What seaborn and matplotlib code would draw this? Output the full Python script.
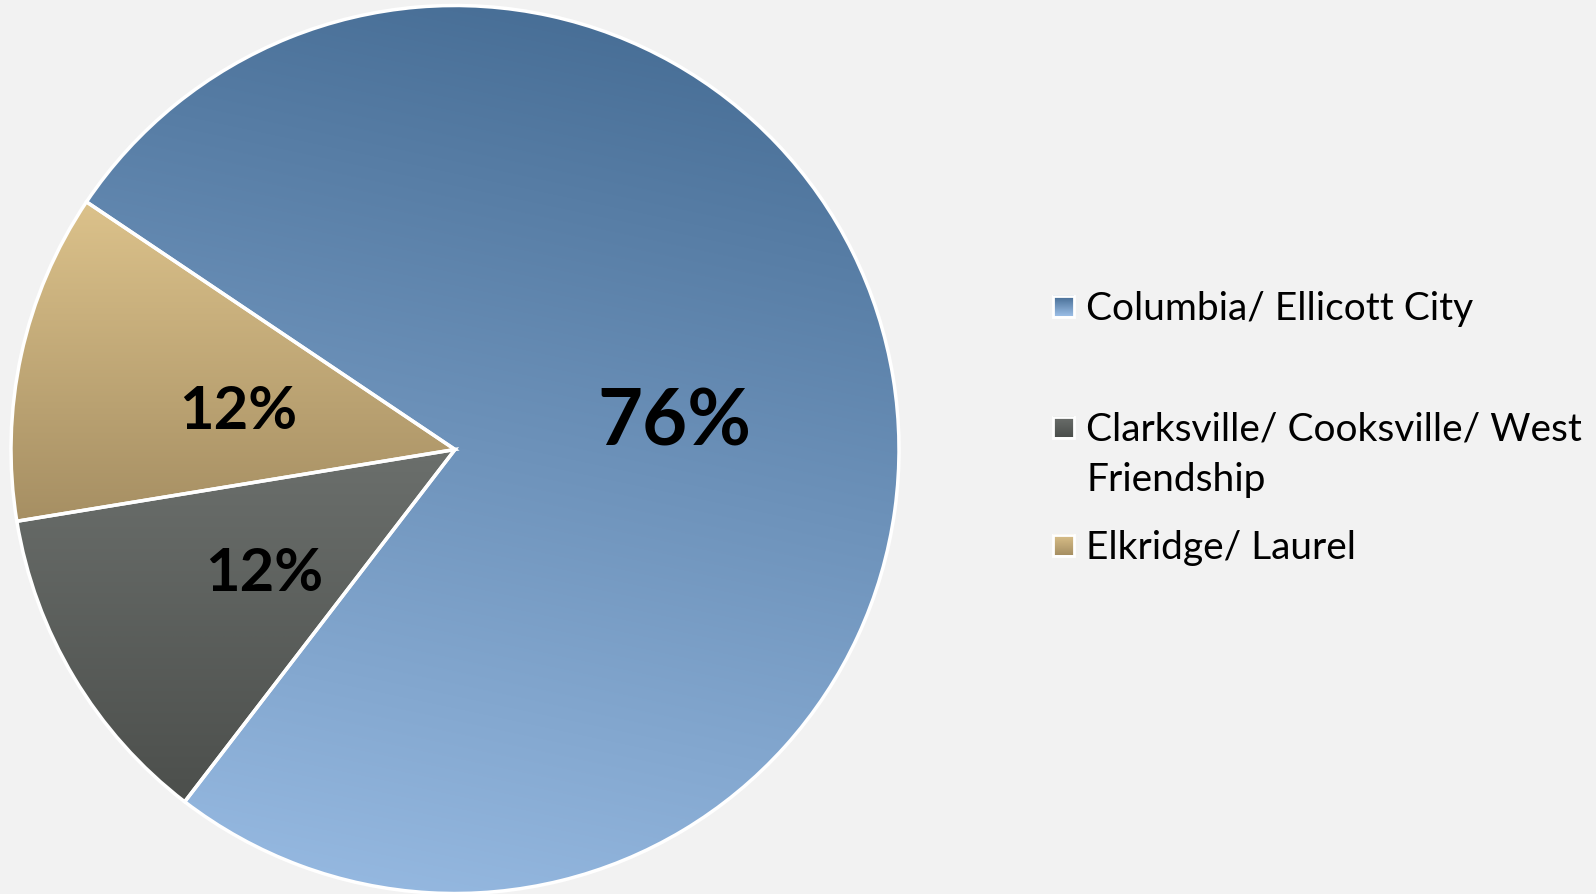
import numpy as np
import matplotlib
matplotlib.use("Agg")
import matplotlib.pyplot as plt
import matplotlib.transforms as mtransforms
import seaborn as sns
from matplotlib.colors import to_rgb
from matplotlib.patches import Rectangle

# data
regions = ['Columbia/ Ellicott City', 'Clarksville/ Cooksville/ West\nFriendship', 'Elkridge/ Laurel']
shares = [76, 12, 12]
top_colors = ['#416890', '#6b6f6c', '#dcc28b']
bottom_colors = ['#9abde5', '#4c4f4c', '#a68f63']
grad_tilt = [12, 0, 0]   # degrees the gradient is rotated from vertical

sns.set_theme(style='white')
plt.rcParams['font.family'] = ['Lato', 'DejaVu Sans']

bg = '#f2f2f2'
W, H = 1596, 894
fig = plt.figure(figsize=(W / 100, H / 100), dpi=100, facecolor=bg)

# pie placed in pixel terms
R, cx, cy = 444, 455, 449.5
pad = 1.03
ax = fig.add_axes([(cx - R * pad) / W, (H - cy - R * pad) / H, 2 * R * pad / W, 2 * R * pad / H])
ax.set_facecolor('none')

wedges, texts, autotexts = ax.pie(
    shares, startangle=146.1, counterclock=False, autopct='%1.0f%%', pctdistance=0.5,
    wedgeprops=dict(edgecolor='white', linewidth=2.5, facecolor='none'),
    textprops=dict(color='black', fontweight='bold'))


def gradient_img(x0, x1, y0, y1, top, bottom, tilt, n=300):
    xs = np.linspace(x0, x1, n)
    ys = np.linspace(y0, y1, n)
    X, Y = np.meshgrid(xs, ys)
    a = np.deg2rad(tilt)
    proj = X * np.sin(a) + Y * np.cos(a)
    corners = [cx_ * np.sin(a) + cy_ * np.cos(a) for cx_ in (x0, x1) for cy_ in (y0, y1)]
    t = (proj - min(corners)) / (max(corners) - min(corners))
    t = np.clip(t, 0, 1)[..., None]
    return t * np.array(to_rgb(top)) + (1 - t) * np.array(to_rgb(bottom))


for w, top, bot, tilt in zip(wedges, top_colors, bottom_colors, grad_tilt):
    bb = w.get_path().get_extents()
    img = gradient_img(bb.x0, bb.x1, bb.y0, bb.y1, top, bot, tilt)
    im = ax.imshow(img, extent=(bb.x0, bb.x1, bb.y0, bb.y1), origin='lower',
                   interpolation='bilinear', zorder=0.5)
    im.set_clip_path(w)

for i, t in enumerate(autotexts):
    t.set_fontsize(56 if i == 0 else 43)
    t.set_zorder(5)
    t.set_transform(mtransforms.offset_copy(t.get_transform(), fig=fig, y=-10, units='dots'))

ax.set_xlim(-pad, pad)
ax.set_ylim(-pad, pad)
ax.set_aspect('equal')
ax.axis('off')

# legend drawn in pixel coordinates
lax = fig.add_axes([0, 0, 1, 1])
lax.set_xlim(0, W)
lax.set_ylim(H, 0)
lax.axis('off')
lax.set_facecolor('none')

leg_y = [306, 427, 545]
line_gap = 50
sq = 21
for name, y, top, bot in zip(regions, leg_y, top_colors, bottom_colors):
    x0 = 1053
    img = gradient_img(0, 1, 0, 1, top, bot, 0, n=50)
    lax.imshow(img, extent=(x0, x0 + sq, y + sq / 2, y - sq / 2), origin='lower',
               interpolation='bilinear', aspect='auto')
    lax.add_patch(Rectangle((x0, y - sq / 2), sq, sq, facecolor='none', edgecolor='white', lw=2))
    for k, line in enumerate(name.split('\n')):
        lax.text(1086, y + 14 + k * line_gap, line, fontsize=28, va='baseline', ha='left', color='black')

lax.set_xlim(0, W)
lax.set_ylim(H, 0)

fig.savefig('out.png', dpi=100, facecolor=bg)
